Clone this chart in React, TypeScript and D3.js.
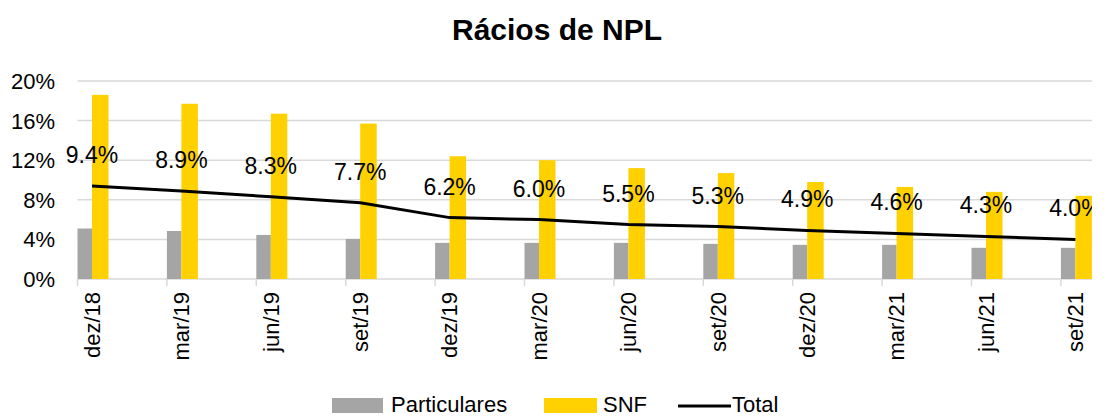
import React from 'react';
import * as d3 from 'd3';

const categories = ['dez/18', 'mar/19', 'jun/19', 'set/19', 'dez/19', 'mar/20', 'jun/20', 'set/20', 'dez/20', 'mar/21', 'jun/21', 'set/21'];
const particulares = [5.1, 4.85, 4.45, 4.05, 3.65, 3.65, 3.65, 3.55, 3.45, 3.45, 3.15, 3.15];
const snf = [18.6, 17.7, 16.7, 15.7, 12.4, 12.0, 11.2, 10.7, 9.8, 9.3, 8.8, 8.4];
const total = [9.4, 8.9, 8.3, 7.7, 6.2, 6.0, 5.5, 5.3, 4.9, 4.6, 4.3, 4.0];
const yTicks = [0, 4, 8, 12, 16, 20];

const W = 1104;
const H = 417;
const FONT = 'Liberation Sans, Arial, sans-serif';
const GRID = '#d9d9d9';
const GRAY = '#a5a5a5';
const YELLOW = '#ffd100';

const App = () => {
  const left = 77.5;
  const right = 1092;
  const band = 89.4;

  // the chart is cut off on the right, so the band range runs past the svg
  const x = d3.scaleBand<string>()
    .domain(categories)
    .range([left, left + band * categories.length])
    .padding(0);
  const y = d3.scaleLinear().domain([0, 20]).range([279, 81]);

  const grayW = 14.5;
  const yellowW = 16.5;
  const pointX = (c: string) => (x(c) as number) + grayW;

  const line = d3.line<number>()
    .x((_, i) => pointX(categories[i]))
    .y(d => y(d));

  return (
    <svg width={W} height={H} style={{ position: 'absolute', left: 0, top: 0, background: '#fff' }} fontFamily={FONT}>
      <defs>
        <clipPath id="plotClip">
          <rect x={0} y={0} width={right} height={H} />
        </clipPath>
      </defs>

      <text x={557} y={40} textAnchor="middle" fontSize={30} fontWeight="bold" fill="#000">Rácios de NPL</text>

      {/* gridlines + y labels */}
      {yTicks.map(t => (
        <g key={t}>
          <line x1={left} x2={right} y1={y(t)} y2={y(t)} stroke={GRID} strokeWidth={1.5} />
          <text x={55} y={y(t) + 8} textAnchor="end" fontSize={22} fill="#000">{t}%</text>
        </g>
      ))}

      <g clipPath="url(#plotClip)">
        {/* category ticks */}
        {categories.map(c => (
          <line key={c} x1={x(c)} x2={x(c)} y1={279} y2={286} stroke={GRID} strokeWidth={1.5} />
        ))}

        {categories.map((c, i) => (
          <g key={c}>
            <rect x={x(c)} y={y(particulares[i])} width={grayW} height={y(0) - y(particulares[i])} fill={GRAY} />
            <rect x={(x(c) as number) + grayW} y={y(snf[i])} width={yellowW} height={y(0) - y(snf[i])} fill={YELLOW} />
          </g>
        ))}

        <path d={line(total) || ''} fill="none" stroke="#000" strokeWidth={3} />

        {categories.map((c, i) => (
          <text key={c} x={pointX(c)} y={y(total[i]) - 23} textAnchor="middle" fontSize={23} fill="#000">
            {total[i].toFixed(1)}%
          </text>
        ))}
      </g>

      {/* x labels */}
      {categories.map(c => (
        <text key={c} transform={`translate(${pointX(c)},292) rotate(-90)`} dy="0.35em" textAnchor="end" fontSize={22} fill="#000">{c}</text>
      ))}

      {/* legend */}
      <g fontSize={22} fill="#000">
        <rect x={332} y={398} width={51} height={15} fill={GRAY} />
        <text x={391} y={412}>Particulares</text>
        <rect x={544} y={398} width={53} height={15} fill={YELLOW} />
        <text x={603} y={412}>SNF</text>
        <line x1={678} x2={731} y1={406} y2={406} stroke="#000" strokeWidth={3} />
        <text x={732} y={412}>Total</text>
      </g>
    </svg>
  );
};

export default App;
